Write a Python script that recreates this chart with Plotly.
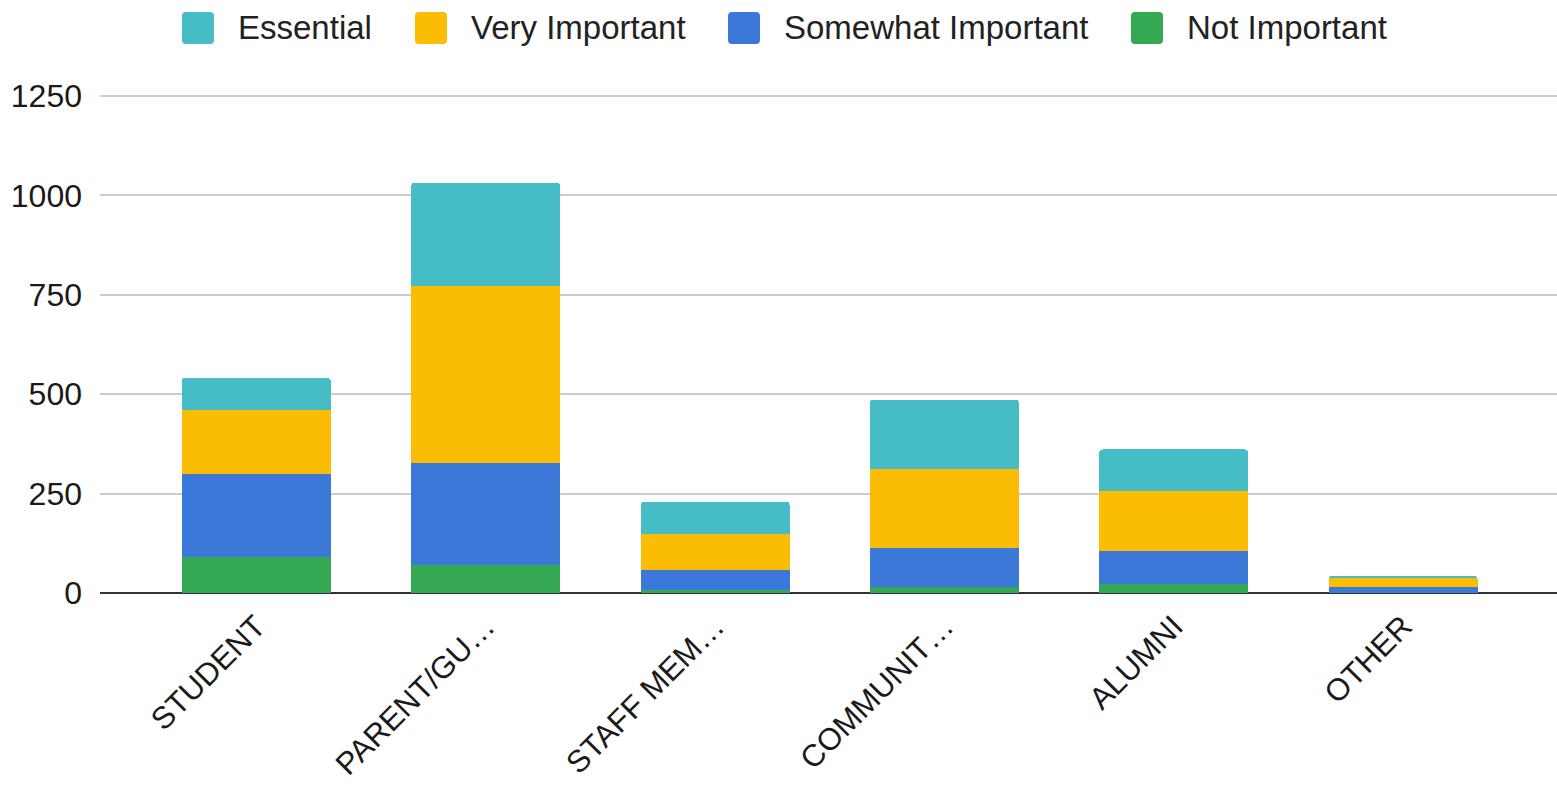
import plotly.graph_objects as go

# Respondent groups (axis labels are truncated as shown on the chart)
categories = ["STUDENT", "PARENT/GU…", "STAFF MEM…", "COMMUNIT…", "ALUMNI", "OTHER"]

# Counts per importance rating, stacked bottom to top
not_important = [91, 71, 8, 16, 22, 0]
somewhat_important = [209, 256, 49, 97, 83, 16]
very_important = [159, 444, 91, 200, 152, 24]
essential = [82, 261, 82, 173, 104, 4]

series = [
    ("Not Important", not_important, "#34a853"),
    ("Somewhat Important", somewhat_important, "#3c78d8"),
    ("Very Important", very_important, "#fbbc04"),
    ("Essential", essential, "#46bdc6"),
]

y_ticks = [0, 250, 500, 750, 1000, 1250]
y_max = 1260

FONT = "Liberation Sans, Arial, sans-serif"
W, H = 1557, 785
LEFT, RIGHT, TOP, BOTTOM = 100, 0, 92, 192

fig = go.Figure()
for name, values, color in series:
    fig.add_trace(go.Bar(
        x=categories, y=values, name=name,
        marker=dict(color=color, line=dict(width=0)),
        showlegend=False,
    ))


def px(x):
    """Pixel x -> paper x."""
    return (x - LEFT) / (W - LEFT - RIGHT)


def py(y):
    """Pixel y -> paper y."""
    return 1 - (y - TOP) / (H - TOP - BOTTOM)


# Legend drawn manually: large rounded swatches followed by labels
legend_items = [
    ("Essential", "#46bdc6", 238),
    ("Very Important", "#fbbc04", 471),
    ("Somewhat Important", "#3c78d8", 784),
    ("Not Important", "#34a853", 1187),
]
shapes = []
annotations = []
sw = 32
cy = 28
r = 4
for label, color, text_x in legend_items:
    x1 = text_x - 24
    x0 = x1 - sw
    y0 = cy - sw / 2
    y1 = cy + sw / 2
    path = (
        f"M{px(x0 + r)},{py(y0)} L{px(x1 - r)},{py(y0)} "
        f"Q{px(x1)},{py(y0)} {px(x1)},{py(y0 + r)} "
        f"L{px(x1)},{py(y1 - r)} Q{px(x1)},{py(y1)} {px(x1 - r)},{py(y1)} "
        f"L{px(x0 + r)},{py(y1)} Q{px(x0)},{py(y1)} {px(x0)},{py(y1 - r)} "
        f"L{px(x0)},{py(y0 + r)} Q{px(x0)},{py(y0)} {px(x0 + r)},{py(y0)} Z"
    )
    shapes.append(dict(type="path", xref="paper", yref="paper", path=path,
                       fillcolor=color, line=dict(width=0), layer="above"))
    annotations.append(dict(
        xref="paper", yref="paper", x=px(text_x - 2), y=py(cy),
        text=label, showarrow=False, xanchor="left", yanchor="middle",
        font=dict(family=FONT, size=33, color="#222222"),
    ))

fig.update_layout(
    width=W, height=H,
    margin=dict(l=LEFT, r=RIGHT, t=TOP, b=BOTTOM, pad=0, autoexpand=False),
    paper_bgcolor="white", plot_bgcolor="white",
    barmode="stack",
    bargap=0.35,
    barcornerradius=4,
    font=dict(family=FONT, size=30, color="#222222"),
    shapes=shapes,
    annotations=annotations,
    xaxis=dict(
        type="category",
        range=[-0.682, 5.671],
        tickangle=-45,
        showgrid=False,
        showline=False,
        ticks="",
        ticklabelstandoff=8,
        tickfont=dict(family=FONT, size=31, color="#1a1a1a"),
        zeroline=False,
        automargin=False,
    ),
    yaxis=dict(
        range=[0, y_max],
        tickvals=y_ticks,
        ticktext=[str(v) for v in y_ticks],
        showgrid=True,
        gridcolor="#cccccc",
        gridwidth=2,
        zeroline=True,
        zerolinecolor="#333333",
        zerolinewidth=2,
        showline=False,
        ticks="",
        ticklabelstandoff=17,
        tickfont=dict(family=FONT, size=32, color="#1a1a1a"),
        automargin=False,
    ),
)

fig.write_html("out.html")
